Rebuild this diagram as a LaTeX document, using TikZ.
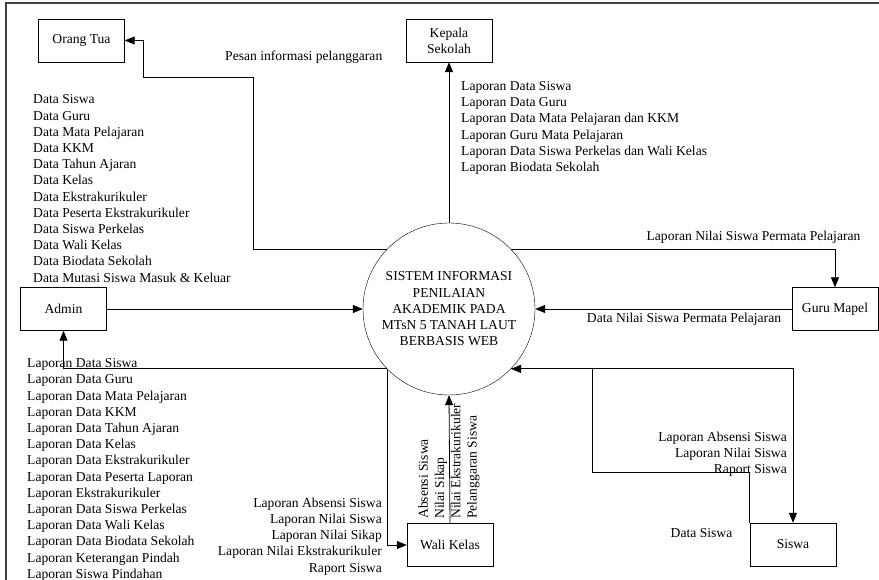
\documentclass[tikz,border=0pt]{standalone}
\usepackage{fontspec}
\setmainfont{Liberation Serif}
\usepackage{tikz}
\usetikzlibrary{positioning}
\usetikzlibrary{arrows.meta}
\tikzset{entbox/.style={draw, minimum width=86pt, minimum height=43pt, align=center, font=\fontsize{13.6}{16.2}\selectfont}}
\tikzset{procnode/.style={draw, circle, minimum size=172pt, inner sep=0pt, align=center, font=\fontsize{13.6}{16.2}\selectfont}}
\tikzset{lbl/.style={inner sep=0pt, font=\fontsize{13.6}{16.2}\selectfont}}
\tikzset{flow/.style={line width=0.8pt, -{Triangle[length=10pt,width=8pt]}}}

\begin{document}
\begin{tikzpicture}[x=1pt, y=-1pt]

\useasboundingbox (0,0) rectangle (879,580);
\draw[line width=1.2pt, black!75] (6,585) -- (6,3) -- (885,3);

\node[procnode] (sis) at (449, 309) {SISTEM INFORMASI\\PENILAIAN\\AKADEMIK PADA\\MTsN 5 TANAH LAUT\\BERBASIS WEB};

\node[entbox] (ortu) at (81.5, 40.5) {Orang Tua};
\node[entbox] (kepsek) at (449, 40.5) {Kepala\\Sekolah};
\node[entbox] (admin) at (63.5, 309) {Admin};
\node[entbox] (guru) at (835, 309) {Guru Mapel};
\node[entbox] (wali) at (450, 545) {Wali Kelas};
\node[entbox] (siswa) at (793, 544.5) {Siswa};

\draw[flow] (sis.136) -| (253,77) -- (143,77) |- (ortu.east);
\draw[flow] (sis.north) -- (kepsek.south);
\draw[flow] (sis.44) -| (guru.north);
\draw[flow] (guru.west) -- (sis.east);
\draw[flow] (admin.east) -- (sis.west);
\draw[flow] (sis.224) -| (admin.south);
\draw[flow] (sis.224) |- (wali.west);
\draw[flow] (wali.north) -- (sis.south);
\draw[flow] (sis.316) -| (siswa.north);
\draw[flow] (siswa.north west) |- (592,472) |- (sis.316);

\node[lbl, anchor=west] (pesan) at (225, 57) {Pesan informasi pelanggaran};

\node[lbl, anchor=west, align=left] (dataadm) at (33, 188.5) {Data Siswa\\Data Guru\\Data Mata Pelajaran\\Data KKM\\Data Tahun Ajaran\\Data Kelas\\Data Ekstrakurikuler\\Data Peserta Ekstrakurikuler\\Data Siswa Perkelas\\Data Wali Kelas\\Data Biodata Sekolah\\Data Mutasi Siswa Masuk \& Keluar};

\node[lbl, anchor=west, align=left] (lapkep) at (461, 128) {Laporan Data Siswa\\Laporan Data Guru\\Laporan Data Mata Pelajaran dan KKM\\Laporan Guru Mata Pelajaran\\Laporan Data Siswa Perkelas dan Wali Kelas\\Laporan Biodata Sekolah};

\node[lbl] (lapguru) at (753.5, 237) {Laporan Nilai Siswa Permata Pelajaran};
\node[lbl] (dataguru) at (684, 319) {Data Nilai Siswa Permata Pelajaran};

\node[lbl, anchor=west, align=left] (lapadm) at (27, 470) {Laporan Data Siswa\\Laporan Data Guru\\Laporan Data Mata Pelajaran\\Laporan Data KKM\\Laporan Data Tahun Ajaran\\Laporan Data Kelas\\Laporan Data Ekstrakurikuler\\Laporan Data Peserta Laporan\\Laporan Ekstrakurikuler\\Laporan Data Siswa Perkelas\\Laporan Data Wali Kelas\\Laporan Data Biodata Sekolah\\Laporan Keterangan Pindah\\Laporan Siswa Pindahan};

\node[lbl, anchor=east, align=right] (lapwali) at (382, 536.5) {Laporan Absensi Siswa\\Laporan Nilai Siswa\\Laporan Nilai Sikap\\Laporan Nilai Ekstrakurikuler\\Raport Siswa};
\node[lbl, rotate=90, anchor=west, align=left] (datawali) at (449, 519) {Absensi Siswa\\Nilai Sikap\\Nilai Ekstrakurikuler\\Pelanggaran Siswa};

\node[lbl, anchor=east, align=right] (lapsiswa) at (787, 454.5) {Laporan Absensi Siswa\\Laporan Nilai Siswa\\Raport Siswa};
\node[lbl] (datasiswa) at (701.5, 533) {Data Siswa};

\end{tikzpicture}
\end{document}
